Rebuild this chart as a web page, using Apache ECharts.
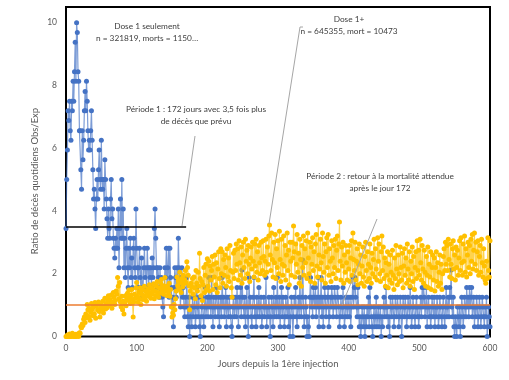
<!DOCTYPE html>
<html><head><meta charset="utf-8">
<script src="https://cdn.jsdelivr.net/npm/echarts@6/dist/echarts.min.js"></script>
<style>html,body{margin:0;padding:0;background:#fff}#c{width:509px;height:380px}</style>
</head><body><div id="c"></div>
<script>
// Daily ratio Obs/Exp, Dose 1 seulement (day 0..600)
const blueValues = [
3.44,5.0,5.94,7.19,6.88,7.5,6.56,6.25,7.5,7.19,8.13,7.5,8.44,9.38,8.13,10.0,9.69,8.44,8.13,6.56,
6.56,5.31,4.69,6.56,5.63,6.25,7.19,7.81,7.19,8.13,7.5,6.56,5.94,6.25,5.94,6.56,7.19,6.25,5.31,4.38,
4.69,4.06,3.44,4.38,5.0,4.38,5.31,5.94,5.0,4.69,6.25,5.0,4.69,5.0,4.06,5.63,5.0,4.38,3.75,3.13,
4.06,3.44,3.13,4.38,5.0,3.75,4.06,3.13,2.81,2.5,3.13,2.81,3.44,2.81,4.06,2.19,3.44,4.38,3.13,5.0,
3.13,4.06,2.19,3.13,1.88,2.81,3.44,2.19,1.56,2.81,2.19,3.13,1.88,2.5,1.56,2.81,3.13,2.19,1.88,4.06,
2.81,2.19,1.56,2.19,2.81,1.88,1.56,2.5,1.25,1.56,2.19,2.81,1.88,2.19,1.56,2.81,2.19,1.56,2.19,1.88,
2.19,1.56,2.5,1.88,2.19,3.44,4.06,3.13,2.19,1.56,2.19,1.88,1.25,2.19,1.56,1.88,1.25,0.94,0.63,1.56,
2.19,1.88,2.81,1.56,2.19,2.81,1.25,2.81,1.88,1.56,0.94,1.25,0.31,1.56,2.19,1.88,1.25,2.19,1.56,3.13,
2.19,1.56,0.94,1.88,2.19,1.25,1.56,0.94,0.63,1.25,0.94,1.88,0.63,0.31,1.25,0,0.63,0.94,0.31,1.25,
0.63,0.94,1.25,0.31,0.63,1.56,0.94,0.63,1.25,0.31,0,0.63,0.94,1.25,0.63,0.31,0.94,1.56,0.63,0.94,
1.25,0.63,1.88,0.94,1.25,0.63,1.88,0.94,0.31,1.25,0.94,0.63,1.25,1.56,0.94,0.63,1.25,0.31,0.94,1.25,
0.63,1.88,0.94,1.25,0.63,0.94,1.56,0.31,1.25,0.94,0.63,1.25,0.94,0.63,0.31,0,0.94,1.25,0.63,0.94,
1.25,0.63,1.56,0.94,0.31,1.25,0.94,1.56,0.63,2.12,1.25,0.94,0.63,1.25,0.31,0.94,1.56,0.63,0,1.88,
0.94,1.25,0.63,0.31,0.94,1.25,1.88,0.63,0.94,0.31,1.25,0.63,0.94,1.56,0.63,0.94,1.25,0.31,0.63,0.94,
1.25,0.63,0.94,1.88,0.31,0.94,0.63,1.25,0.94,0,0.63,1.25,0.94,0.31,1.56,0.63,0.94,1.25,0.63,1.88,
0.94,0.63,1.25,0.31,0.94,1.56,0.63,1.25,0.94,0.31,0.63,1.25,0.94,0.63,1.56,0.31,0.94,0,0.63,1.25,
0.94,0,0.63,1.25,0.94,1.56,0.63,0.31,0.94,1.25,0.63,1.88,0.94,0.63,1.25,2.44,0.94,0.31,0.63,1.25,
0.94,0,0.63,0.31,0,1.25,1.88,0.94,1.25,0.63,1.56,1.25,0.94,1.56,0.63,1.25,0.94,1.88,0.31,1.25,
0.94,1.88,0.63,1.25,0.31,0.94,1.56,1.25,0.63,0.94,1.25,1.56,0.31,0.63,1.25,0.94,1.56,1.25,0.63,0.94,
1.56,1.25,0.94,0.63,1.56,1.25,0.94,0.31,0.63,1.25,0.94,0.63,1.56,0.94,0.31,0.63,1.25,0.94,0.63,1.25,
0.94,0.63,1.25,0.31,0.94,1.25,1.88,0.94,1.56,1.88,1.25,0.94,0.63,1.56,0.94,0.31,0.63,0,0.31,0.94,
0.63,0.31,0.94,0,0.63,0.31,0.94,0.63,1.25,0.31,1.56,0.94,0.63,0.31,0,0.63,0.94,0.31,0.63,1.25,
0.31,0.63,0.94,0.31,0.63,0.94,0,0.63,0.31,0.94,1.25,0.63,0.94,1.56,0.63,0.94,0.31,0.63,0,1.25,
0.94,0.63,1.25,0.94,0.31,0.63,1.25,0.94,0.63,1.25,0.94,0.31,0.63,1.25,0.94,0,0.63,1.25,0.94,0.63,
1.25,0.94,0.31,0.63,1.25,0.94,0.63,1.56,0.94,0.31,0.63,1.25,0.94,0.63,0.31,0.94,1.25,0.63,0.94,0.31,
0.63,0.94,1.25,0.63,1.56,0.94,1.56,1.25,0.63,0.94,1.56,0.31,0.94,1.25,0.63,0.94,0.31,0.63,1.25,0.94,
0.63,1.25,0.31,0.94,0.63,1.25,0.94,0.31,0.63,1.25,0.94,0.63,0.31,0.94,1.25,0.63,0.31,0.94,1.56,0.63,
0.94,1.25,0.63,1.56,1.25,2.12,0.94,0.63,1.25,0.31,0,0.63,0.31,0,0.94,0.63,0.31,0.94,0,0.63,
1.25,0.94,0.31,0.63,1.25,0.94,0.63,1.56,0.94,1.25,0.63,1.56,0.94,1.25,1.56,0.63,0.94,1.25,0.31,0.94,
0.63,1.25,0.94,0.31,0.63,1.25,0.94,0.31,0.63,1.25,0.94,0.63,0.31,0.94,0.63,1.25,0,0.31,0.94,0.63,
0.31
];
// Daily ratio Obs/Exp, Dose 1+ (day 0..600)
const orangeValues = [
0,0,0.05,0,0,0.08,0,0,0.04,0.1,0,0.06,0,0,0.07,0,0.05,0.08,0,0.12,
0.1,0.32,0.28,0.4,0.35,0.55,0.62,0.45,0.72,0.6,1.02,0.85,0.64,0.9,0.52,0.78,1.05,0.88,0.66,0.95,
0.72,1.08,0.58,0.98,1.04,0.85,1.1,0.8,0.62,0.9,1.0,0.86,1.12,0.75,0.95,1.22,0.88,1.05,0.92,1.15,
1.3,0.98,1.18,1.05,1.32,0.9,1.1,1.4,1.25,1.02,1.15,1.45,1.35,1.88,1.6,1.2,1.72,1.1,0.95,1.28,
0.85,1.12,0.72,1.05,1.3,0.98,1.2,1.38,1.15,1.48,1.25,1.05,1.32,1.5,1.18,0.62,1.1,1.35,1.22,1.55,
1.72,1.28,1.1,1.42,1.2,1.55,1.02,1.35,1.48,1.18,1.3,1.6,1.25,1.45,1.12,1.38,1.52,1.28,1.65,1.4,
1.22,1.55,1.35,1.5,1.68,1.2,1.45,1.3,1.6,1.75,1.4,1.25,1.55,1.38,1.7,1.82,1.48,1.62,1.35,1.52,
1.88,1.45,1.6,1.3,1.55,1.42,1.7,1.28,1.5,0.95,0.62,0.75,0.68,1.02,0.85,1.2,1.45,1.9,1.62,1.78,
1.5,2.05,1.72,1.4,1.85,1.58,1.95,1.68,1.8,2.1,1.72,2.38,2.2,1.95,1.62,0.85,1.45,1.7,1.58,1.85,
1.35,1.9,1.55,1.2,2.1,1.7,1.45,2.05,1.6,2.65,1.85,1.3,1.75,1.15,1.65,2.2,1.4,1.95,2.3,1.5,
2.48,1.6,2.4,1.45,2.25,1.8,2.1,2.55,1.5,2.3,1.9,2.6,1.65,2.35,1.4,2.15,2.7,1.85,1.55,2.8,
2.0,2.7,1.7,2.45,1.95,2.6,2.2,1.6,2.8,1.9,2.5,1.75,2.9,2.1,1.55,1.25,2.05,2.65,1.85,2.75,
2.1,2.95,2.3,2.8,1.8,3.05,2.35,1.95,2.85,1.7,2.6,3.0,2.2,1.85,3.1,2.4,2.75,2.0,2.9,2.3,
1.75,2.5,2.85,2.15,3.0,2.4,1.9,2.95,2.25,3.1,2.05,2.7,1.8,2.9,2.35,2.0,3.0,2.5,2.1,3.05,
2.55,1.95,2.4,3.1,2.05,2.85,2.3,3.2,3.55,2.6,2.1,3.3,2.45,1.9,3.0,2.35,3.25,1.85,2.8,2.2,
3.05,2.0,3.35,2.45,1.75,3.1,2.3,1.95,3.2,2.25,2.9,1.8,2.6,3.3,2.1,2.75,1.65,3.0,2.4,1.95,
3.0,2.5,3.52,2.7,1.9,2.95,2.3,3.25,2.05,2.65,1.7,3.1,2.45,1.6,2.9,2.2,3.2,1.95,2.8,2.35,
3.05,1.85,3.3,2.5,2.0,3.0,1.75,2.85,2.3,3.15,2.1,2.7,1.7,2.95,3.25,2.25,1.9,3.55,2.6,2.15,
3.1,2.35,1.8,3.3,2.55,2.05,2.95,1.7,2.7,3.15,2.2,3.25,1.95,2.8,2.4,1.75,3.05,2.5,2.0,2.9,
2.2,3.1,1.85,2.75,3.2,2.1,2.95,3.65,2.4,1.8,2.85,2.25,3.0,1.7,2.6,2.05,2.9,2.35,1.8,2.7,
2.15,2.9,1.75,2.5,3.05,1.95,3.3,2.45,2.1,3.0,1.8,2.4,2.8,1.65,2.3,2.95,2.0,2.6,1.7,2.25,
2.85,1.9,1.6,2.55,3.0,2.1,1.75,2.7,2.3,1.85,2.95,2.2,1.7,2.65,2.0,2.45,3.1,1.9,2.8,2.15,
1.8,3.15,2.4,2.95,2.0,1.75,2.7,3.2,2.1,2.85,1.85,2.5,1.6,2.35,1.95,2.7,1.55,2.3,1.8,2.6,
2.05,1.7,2.75,1.95,1.5,2.5,1.85,2.9,2.15,1.65,2.6,2.0,1.75,2.85,2.2,1.8,2.65,1.55,2.25,2.8,
1.95,2.5,1.7,2.95,2.15,1.8,2.7,1.6,2.4,2.0,2.85,1.75,2.55,1.5,2.2,2.7,1.85,3.05,2.1,2.75,
1.95,3.1,2.35,1.8,2.9,2.15,1.7,2.75,2.05,1.6,2.55,1.95,2.85,1.55,2.3,1.9,2.7,1.5,2.2,2.6,
1.8,2.5,1.45,2.2,2.7,1.75,2.35,1.6,2.05,2.6,1.7,2.3,1.5,2.0,2.55,2.8,2.1,3.0,2.3,2.9,
2.1,3.1,2.45,1.9,2.95,2.3,1.85,2.8,3.05,2.15,2.6,1.8,2.85,2.2,2.75,1.95,2.5,3.05,2.1,3.15,
2.35,1.95,2.95,2.4,3.2,2.05,2.8,1.9,2.6,3.0,2.2,2.9,2.0,3.1,2.4,3.25,2.15,2.75,3.3,2.3,
3.0,2.1,2.7,3.05,1.95,2.55,2.9,2.05,3.1,2.35,1.9,2.8,2.25,1.8,1.7,2.4,1.85,3.15,2.1,1.9,
3.05
];
const xTicks = [0, 100, 200, 300, 400, 500, 600];
const yTicks = [0, 2, 4, 6, 8, 10];
const period1Ratio = 3.5;     // black reference line
const period1EndDay = 170;
const expectedRatio = 1;      // orange reference line

const blueData = blueValues.map((v, i) => [i, v]);
const orangeData = orangeValues.map((v, i) => [i, v]);

const FONT = 'Lato, "Open Sans", sans-serif';
const chart = echarts.init(document.getElementById('c'), null, {renderer: 'canvas'});
const ann = (x, y, text) => ({
  type: 'text', x: x, y: y, z: 10,
  style: {text: text, fontFamily: FONT, fontSize: 8.3, fill: '#404040', align: 'center', verticalAlign: 'top', lineHeight: 11.5}
});
const leader = pts => ({type: 'polyline', z: 10, shape: {points: pts}, style: {stroke: '#A6A6A6', lineWidth: 1, fill: null}});
chart.setOption({
  animation: false,
  backgroundColor: '#fff',
  textStyle: {fontFamily: FONT},
  grid: {left: 66, right: 19, top: 7, bottom: 43.5, show: true, borderColor: '#000', borderWidth: 2, backgroundColor: 'transparent'},
  xAxis: {
    type: 'value', min: xTicks[0], max: xTicks[xTicks.length - 1], interval: 100,
    name: 'Jours depuis la 1ère injection', nameLocation: 'middle', nameGap: 22,
    nameTextStyle: {fontFamily: FONT, fontSize: 9.5, color: '#595959'},
    axisLine: {show: false}, axisTick: {show: false}, splitLine: {show: false},
    axisLabel: {fontFamily: FONT, fontSize: 8.5, color: '#595959', margin: 7}
  },
  yAxis: {
    type: 'value', min: 0, max: 10.5, interval: 2,
    axisLine: {show: false}, axisTick: {show: false}, splitLine: {show: false},
    axisLabel: {fontFamily: FONT, fontSize: 8.5, color: '#595959', margin: 9,
      formatter: v => (yTicks.indexOf(v) >= 0 ? String(v) : '')}
  },
  series: [
    {
      name: 'Dose 1 seulement', type: 'line', data: blueData,
      symbol: 'circle', symbolSize: 5, showSymbol: true,
      itemStyle: {color: '#4472C4'},
      lineStyle: {color: '#4472C4', width: 1.2, opacity: 0.7},
      markLine: {
        silent: true, symbol: ['none', 'none'], label: {show: false},
        lineStyle: {color: '#000', width: 1.5, type: 'solid'},
        data: [[{coord: [0, period1Ratio]}, {coord: [period1EndDay, period1Ratio]}]]
      },
      z: 2
    },
    {
      name: 'Dose 1+', type: 'line', data: orangeData,
      symbol: 'circle', symbolSize: 5, showSymbol: true,
      itemStyle: {color: '#FFC000'},
      lineStyle: {color: '#FFC000', width: 1.1, opacity: 0.7},
      markLine: {
        silent: true, symbol: ['none', 'none'], label: {show: false},
        lineStyle: {color: '#ED7D31', width: 1.5, type: 'solid'},
        data: [[{coord: [0, expectedRatio]}, {coord: [600, expectedRatio]}]]
      },
      z: 3
    }
  ],
  graphic: [
    {type: 'text', x: 35, y: 181, rotation: Math.PI / 2, z: 10,
     style: {text: 'Ratio de décès quotidiens Obs/Exp', fontFamily: FONT, fontSize: 9.5, fill: '#595959', align: 'center', verticalAlign: 'middle'}},
    ann(147, 21, 'Dose 1 seulement\nn = 321819, morts = 1150…'),
    ann(196, 104, 'Période 1 : 172 jours avec 3,5 fois plus\nde décès que prévu'),
    ann(349, 14, 'Dose 1+\nn = 645355, mort = 10473'),
    ann(380, 171, 'Période 2 : retour à la mortalité attendue\naprès le jour 172'),
    leader([[195, 136], [182, 226]]),
    leader([[303, 27], [300, 27], [269, 224]]),
    leader([[377, 219], [342, 305]])
  ]
});
</script>
</body></html>
